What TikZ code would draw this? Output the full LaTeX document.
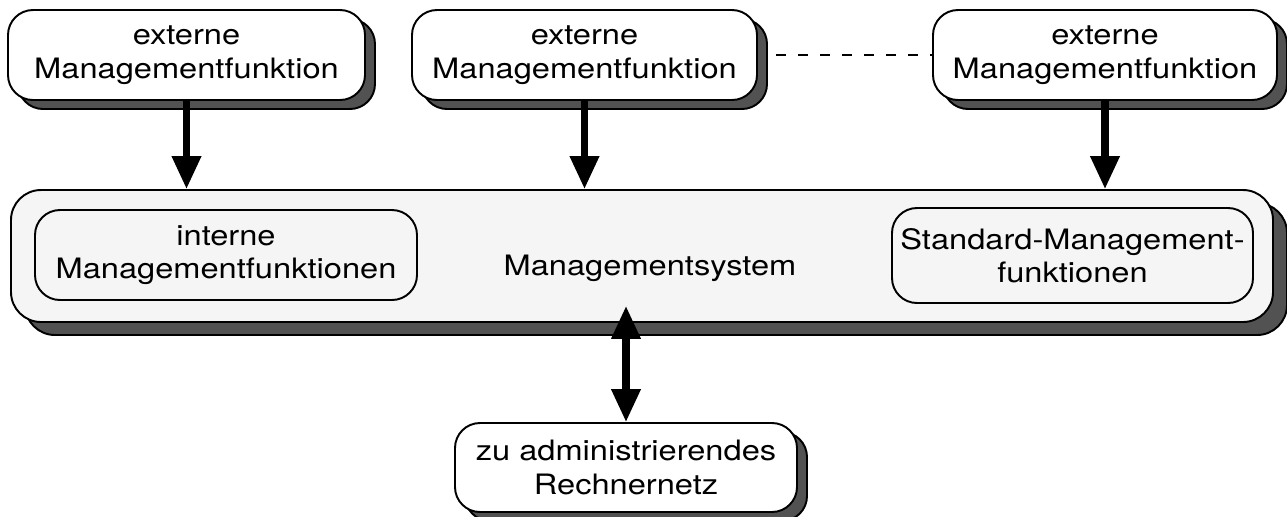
\documentclass[tikz,border=0pt]{standalone}
\usepackage{fontspec}
\setmainfont{TeX Gyre Heros}[FakeStretch=1.16]
\usetikzlibrary{arrows.meta,shadows}

\begin{document}
\begin{tikzpicture}[
  box/.style={draw,line width=1.1pt,rounded corners=0.5cm,align=center,inner sep=0pt,font=\fontsize{16}{19}\selectfont},
  shadowbox/.style={box,fill=white,drop shadow={shadow xshift=0.2cm,shadow yshift=-0.18cm,fill=black!68,draw=black,opacity=1}},
  flow/.style={line width=4pt,-{Triangle[width=0.56cm,length=0.66cm]}},
  biflow/.style={line width=4pt,{Triangle[width=0.56cm,length=0.66cm]}-{Triangle[width=0.56cm,length=0.66cm]}}
]
\useasboundingbox (0,0) rectangle (25.74,-10.32);

\node[box,rounded corners=0.6cm,fill=black!4,minimum width=25.24cm,minimum height=2.64cm,drop shadow={shadow xshift=0.28cm,shadow yshift=-0.26cm,fill=black!68,draw=black,opacity=1}] (sys) at (12.84,-5.12) {};
\node[box,minimum width=7.64cm,minimum height=1.8cm] (int) at (4.52,-5.1) {interne\\Managementfunktionen};
\node[box,minimum width=7.22cm,minimum height=1.9cm] (std) at (21.45,-5.11) {Standard-Management-\\funktionen};
\node[font=\fontsize{16}{19}\selectfont] (syslabel) at (13.0,-5.36) {Managementsystem};

\node[shadowbox,minimum width=7.14cm,minimum height=1.8cm] (ext1) at (3.73,-1.1) {externe\\Managementfunktion};
\node[shadowbox,minimum width=6.9cm,minimum height=1.8cm] (ext2) at (11.69,-1.1) {externe\\Managementfunktion};
\node[shadowbox,minimum width=6.88cm,minimum height=1.8cm] (ext3) at (22.1,-1.1) {externe\\Managementfunktion};
\node[shadowbox,minimum width=6.84cm,minimum height=1.78cm] (net) at (12.52,-9.35) {zu administrierendes\\Rechnernetz};

\draw[line width=1.6pt,dash pattern=on 0.2cm off 0.24cm] ([xshift=0.36cm]ext2.east) -- (ext3.west);

\draw[flow] (ext1.south) -- (ext1.south |- sys.north);
\draw[flow] (ext2.south) -- (ext2.south |- sys.north);
\draw[flow] (ext3.south) -- (ext3.south |- sys.north);

\coordinate (systip) at ([yshift=0.34cm]net.north |- sys.south);
\draw[biflow] (net.north) -- (systip);
\end{tikzpicture}
\end{document}
